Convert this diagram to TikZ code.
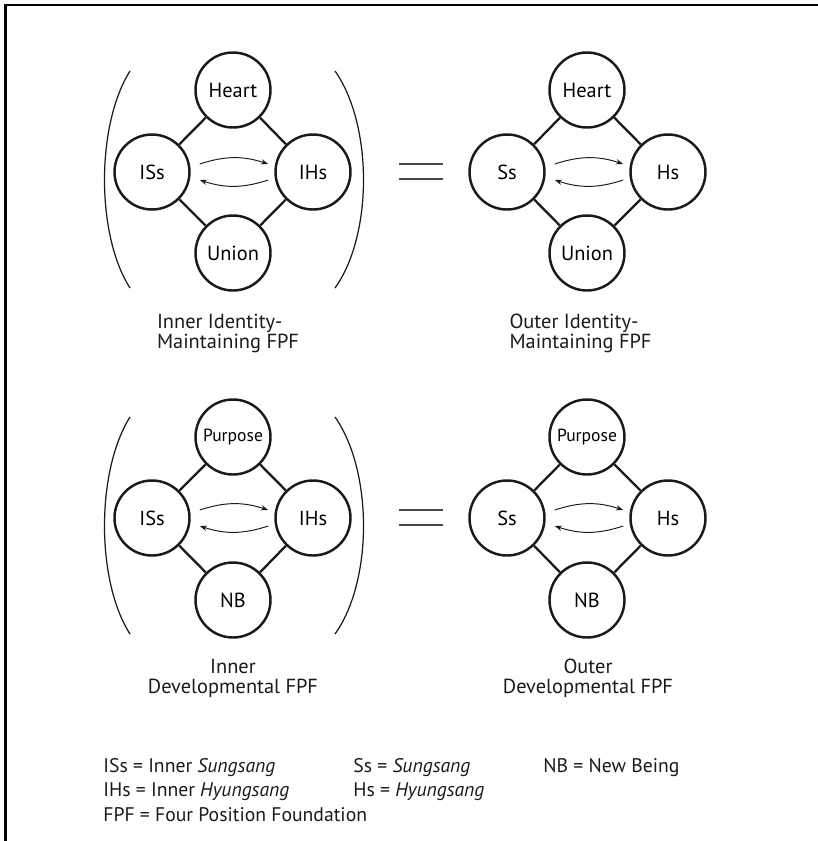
\documentclass[tikz,border=0pt]{standalone}
\usepackage{fontspec}
\setmainfont{PT Sans}
\usepackage{xcolor}
\usetikzlibrary{arrows.meta}
\definecolor{fpfink}{HTML}{1A1A1A}

\begin{document}
\begin{tikzpicture}[
    fpfpos/.style={circle, draw=fpfink, line width=1.4pt, minimum size=1.5cm, inner sep=0pt, font=\fontsize{11.6}{13}\selectfont},
    fpflink/.style={draw=fpfink, line width=1.3pt},
    fpfarrow/.style={draw=fpfink, line width=0.55pt, -{Stealth[length=4pt,width=3pt]}},
    fpfparen/.style={draw=fpfink, line width=0.7pt},
    fpfcap/.style={font=\fontsize{11.6}{11.4}\selectfont, text=fpfink},
    fpflegend/.style={anchor=west, inner sep=0pt, font=\fontsize{11.2}{12}\selectfont, text=fpfink}
  ]
  \useasboundingbox (0,0) rectangle (16.36,-16.82);
  % frame (top and left only)
  \draw[line width=1.4pt] (0.11,-16.82) -- (0.11,-0.1) -- (16.36,-0.1);

  % inner identity-maintaining
  \node[fpfpos] (aT) at (4.66,-1.80) {Heart};
  \node[fpfpos] (aL) at (3.04,-3.44) {ISs};
  \node[fpfpos] (aR) at (6.26,-3.44) {IHs};
  \node[fpfpos] (aB) at (4.66,-5.06) {Union};
  \draw[fpflink] (aT) -- (aL) (aT) -- (aR) (aL) -- (aB) (aR) -- (aB);
  \draw[fpfarrow] ([xshift=0.2cm]aL.12) to[bend left=18] ([xshift=-0.14cm]aR.168);
  \draw[fpfarrow] ([xshift=-0.14cm]aR.192) to[bend left=18] ([xshift=0.2cm]aL.-12);
  \draw[fpfparen] (2.60,-1.42) .. controls (1.92,-2.5) and (1.92,-4.7) .. (2.60,-5.76);
  \draw[fpfparen] (6.70,-1.42) .. controls (7.46,-2.5) and (7.46,-4.7) .. (6.70,-5.76);
  \node[fpfcap, align=left] (aCap) at (4.56,-6.66) {Inner Identity-\\Maintaining FPF};

  % equals
  \draw[line width=0.9pt, fpfink!80] (7.98,-3.28) -- (8.86,-3.28) (7.98,-3.58) -- (8.86,-3.58);

  % outer identity-maintaining
  \node[fpfpos] (bT) at (11.74,-1.80) {Heart};
  \node[fpfpos] (bL) at (10.14,-3.44) {Ss};
  \node[fpfpos] (bR) at (13.36,-3.44) {Hs};
  \node[fpfpos] (bB) at (11.74,-5.06) {Union};
  \draw[fpflink] (bT) -- (bL) (bT) -- (bR) (bL) -- (bB) (bR) -- (bB);
  \draw[fpfarrow] ([xshift=0.2cm]bL.12) to[bend left=18] ([xshift=-0.14cm]bR.168);
  \draw[fpfarrow] ([xshift=-0.14cm]bR.192) to[bend left=18] ([xshift=0.2cm]bL.-12);
  \node[fpfcap, align=left] (bCap) at (11.61,-6.66) {Outer Identity-\\Maintaining FPF};

  % inner developmental
  \node[fpfpos] (cT) at (4.66,-8.74) {\fontsize{10}{11}\selectfont Purpose};
  \node[fpfpos] (cL) at (3.04,-10.36) {ISs};
  \node[fpfpos] (cR) at (6.26,-10.36) {IHs};
  \node[fpfpos] (cB) at (4.66,-12.00) {NB};
  \draw[fpflink] (cT) -- (cL) (cT) -- (cR) (cL) -- (cB) (cR) -- (cB);
  \draw[fpfarrow] ([xshift=0.2cm]cL.12) to[bend left=18] ([xshift=-0.14cm]cR.168);
  \draw[fpfarrow] ([xshift=-0.14cm]cR.192) to[bend left=18] ([xshift=0.2cm]cL.-12);
  \draw[fpfparen] (2.60,-8.34) .. controls (1.92,-9.42) and (1.92,-11.62) .. (2.60,-12.68);
  \draw[fpfparen] (6.70,-8.34) .. controls (7.46,-9.42) and (7.46,-11.62) .. (6.70,-12.68);
  \node[fpfcap, align=center] (cCap) at (4.66,-13.56) {Inner\\Developmental FPF};

  % equals
  \draw[line width=0.9pt, fpfink!80] (7.98,-10.20) -- (8.86,-10.20) (7.98,-10.50) -- (8.86,-10.50);

  % outer developmental
  \node[fpfpos] (dT) at (11.74,-8.74) {\fontsize{10}{11}\selectfont Purpose};
  \node[fpfpos] (dL) at (10.14,-10.36) {Ss};
  \node[fpfpos] (dR) at (13.36,-10.36) {Hs};
  \node[fpfpos] (dB) at (11.74,-12.00) {NB};
  \draw[fpflink] (dT) -- (dL) (dT) -- (dR) (dL) -- (dB) (dR) -- (dB);
  \draw[fpfarrow] ([xshift=0.2cm]dL.12) to[bend left=18] ([xshift=-0.14cm]dR.168);
  \draw[fpfarrow] ([xshift=-0.14cm]dR.192) to[bend left=18] ([xshift=0.2cm]dL.-12);
  \node[fpfcap, align=center] (dCap) at (11.76,-13.56) {Outer\\Developmental FPF};

  % legend
  \node[fpflegend] (legISs) at (2.06,-15.36) {ISs = Inner \textit{Sungsang}};
  \node[fpflegend] (legIHs) at (2.06,-15.84) {IHs = Inner \textit{Hyungsang}};
  \node[fpflegend] (legFPF) at (2.06,-16.30) {FPF = Four Position Foundation};
  \node[fpflegend] (legSs) at (7.06,-15.36) {Ss = \textit{Sungsang}};
  \node[fpflegend] (legHs) at (7.06,-15.84) {Hs = \textit{Hyungsang}};
  \node[fpflegend] (legNB) at (10.86,-15.36) {NB = New Being};
\end{tikzpicture}
\end{document}
